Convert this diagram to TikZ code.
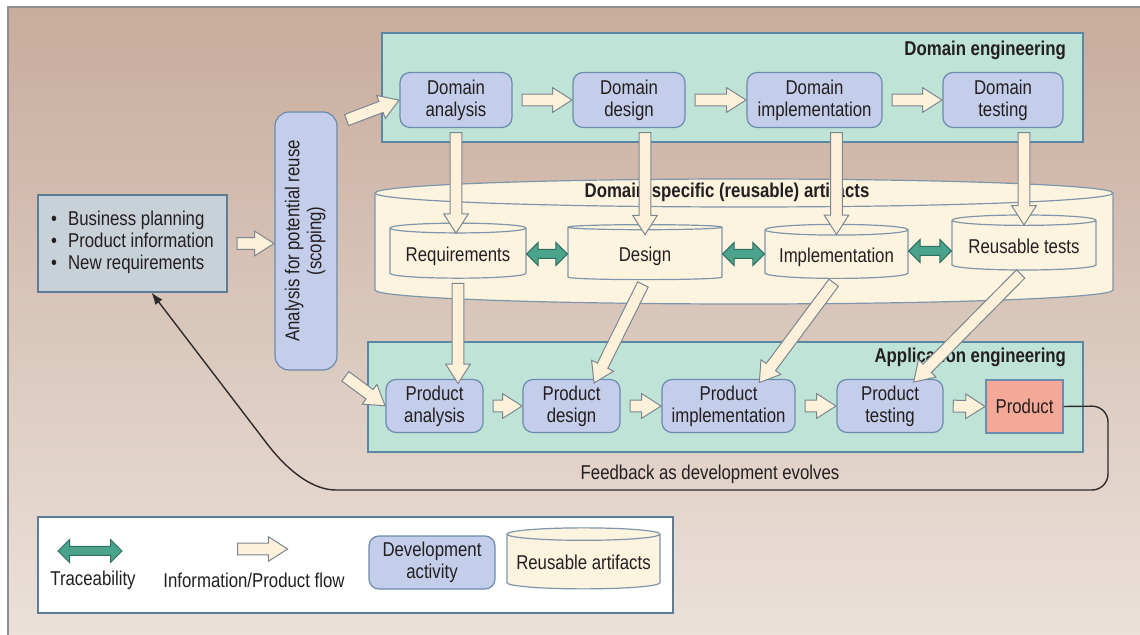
\documentclass[tikz,border=0pt]{standalone}
\usepackage{fontspec}
\setmainfont[FakeStretch=0.84]{Liberation Sans}
\usepackage{graphicx}
\usetikzlibrary{positioning,calc,shapes.geometric,shapes.arrows,arrows.meta}
\definecolor{bgtop}{HTML}{C8AC9C}
\definecolor{bgbot}{HTML}{EBE1DA}
\definecolor{framegray}{HTML}{8E8E90}
\definecolor{ink}{HTML}{231F20}
\definecolor{regfill}{HTML}{BFE3D6}
\definecolor{regline}{HTML}{5A88A2}
\definecolor{actfill}{HTML}{C4CDEA}
\definecolor{actline}{HTML}{6A8CAE}
\definecolor{cream}{HTML}{FDF4DF}
\definecolor{storeline}{HTML}{7F96A8}
\definecolor{flowfill}{HTML}{FDF1DA}
\definecolor{flowline}{HTML}{7C8692}
\definecolor{tracefill}{HTML}{4BA38B}
\definecolor{traceline}{HTML}{2F6E62}
\definecolor{prodfill}{HTML}{F3A898}
\definecolor{inputfill}{HTML}{C9D1D8}
\definecolor{keyline}{HTML}{5C7C98}
\definecolor{fbline}{HTML}{2E2B2B}

\begin{document}
\begin{tikzpicture}[x=0.5pt, y=-0.5pt,
        every node/.style={font=\fontsize{10}{11}\selectfont, text=ink},
        region/.style={rectangle, draw=regline, fill=regfill, line width=0.6pt},
        title/.style={font=\fontsize{10}{11}\selectfont\bfseries, anchor=east},
        activity/.style={rectangle, rounded corners=5pt, draw=actline, fill=actfill, line width=0.6pt, align=center, inner sep=1pt},
        store/.style={cylinder, shape border rotate=90, aspect=0.09, draw=storeline, fill=cream, line width=0.6pt, inner sep=1pt},
        flowhead/.style={single arrow, draw=flowline, fill=flowfill, line width=0.5pt, inner sep=2.7pt, single arrow head extend=3.2pt, single arrow tip angle=65},
        tracehead/.style={double arrow, draw=traceline, fill=tracefill, line width=0.5pt, inner sep=2pt, double arrow head extend=3.5pt, double arrow tip angle=90},
        fgap/.store in=\flowgap, fgap=2.5pt,
        flow/.style={to path={let \p1=(\tikztostart), \p2=(\tikztotarget),
            \n1={atan2(\y2-\y1,\x2-\x1)}, \n2={veclen(\x2-\x1,\y2-\y1)-2*\flowgap} in
            node[flowhead, minimum height=\n2, rotate=\n1] at ($(\p1)!0.5!(\p2)$) {}}},
        trace/.style={to path={let \p1=(\tikztostart), \p2=(\tikztotarget),
            \n1={atan2(\y2-\y1,\x2-\x1)}, \n2={veclen(\x2-\x1,\y2-\y1)} in
            node[tracehead, minimum height=\n2, rotate=\n1] at ($(\p1)!0.5!(\p2)$) {}}},
        feedback/.style={draw=fbline, line width=0.7pt, -{Latex[length=6pt,width=4.5pt]}}]
        \useasboundingbox (0,0) rectangle (1140,635);
        % page
        \fill[white] (0,0) rectangle (1140,635);
        \shade[top color=bgtop, bottom color=bgbot] (8,7) rectangle (1140,635);
        \draw[framegray, line width=1.2pt] (8,635) -- (8,7) -- (1140,7);
        % engineering regions
        \node[region, minimum width=350.5pt, minimum height=54.5pt] at (732.5,87.5) (domeng) {};
        \node[title] at (1073,50) (domtitle) {Domain engineering};
        \node[region, minimum width=357.5pt, minimum height=55pt] at (725.5,397) (appeng) {};
        \node[title] at (1073,357) (apptitle) {Application engineering};
        % scoping
        \node[rectangle, draw=keyline, fill=inputfill, line width=0.6pt, minimum width=94.5pt, minimum height=48.5pt] at (132.5,243.5) (inputs)
            {\begin{tabular}{@{}l@{\hspace{5.5pt}}l@{}}\textbullet & Business planning\\ \textbullet & Product information\\ \textbullet & New requirements\end{tabular}};
        \node[activity, rounded corners=7pt, minimum width=31pt, minimum height=129pt] at (306,241) (scope)
            {\rotatebox{90}{\begin{tabular}{@{}c@{}}Analysis for potential reuse\\(scoping)\end{tabular}}};
        % domain activities
        \node[activity, minimum width=56pt, minimum height=27.5pt] at (456,100) (dA) {Domain\\analysis};
        \node[activity, minimum width=56pt, minimum height=27.5pt] at (629,100) (dD) {Domain\\design};
        \node[activity, minimum width=67.5pt, minimum height=27.5pt] at (814.5,100) (dI) {Domain\\implementation};
        \node[activity, minimum width=60pt, minimum height=27.5pt] at (1003,100) (dT) {Domain\\testing};
        % reusable artifacts (big can)
        \path[fill=cream, draw=storeline, line width=0.6pt] (375,193) -- (375,290)
            arc[start angle=180, end angle=360, x radius=184.5pt, y radius=7pt] -- (1113,193)
            arc[start angle=0, end angle=180, x radius=184.5pt, y radius=7pt] -- cycle;
        \draw[storeline, line width=0.6pt] (375,193) arc[start angle=180, end angle=360, x radius=184.5pt, y radius=7pt];
        \node[title, anchor=center] at (727,192) (artstitle) {Domain-specific (reusable) artifacts};
        \node[store, minimum width=68pt, minimum height=27.5pt, text depth=-4pt] at (458,254) (req) {Requirements};
        \node[store, minimum width=77pt, minimum height=27.5pt, text depth=-4pt] at (645,254) (des) {Design};
        \node[store, minimum width=71.5pt, minimum height=27pt, text depth=-4pt] at (836.5,255) (imp) {Implementation};
        \node[store, minimum width=72pt, minimum height=27.5pt, text depth=-4pt] at (1024,246) (tst) {Reusable tests};
        % product activities
        \node[activity, minimum width=48.5pt, minimum height=26.5pt] at (434.5,406) (pA) {Product\\analysis};
        \node[activity, minimum width=48.5pt, minimum height=26.5pt] at (571.5,406) (pD) {Product\\design};
        \node[activity, minimum width=66.5pt, minimum height=26.5pt] at (728.5,406) (pI) {Product\\implementation};
        \node[activity, minimum width=53pt, minimum height=26.5pt] at (890,406) (pT) {Product\\testing};
        \node[rectangle, draw=actline, fill=prodfill, line width=0.6pt, minimum width=38.5pt, minimum height=26.5pt] at (1024.5,406.5) (prod) {Product};
        % flows
        \path (inputs.east) to[flow] (inputs.east -| scope.west);
        \path ([yshift=-6pt]scope.north east) to[flow] (dA.west);
        \path (scope.south east) to[flow] (pA.west);
        \path (dA.east) to[flow] (dD.west);
        \path (dD.east) to[flow] (dI.west);
        \path (dI.east) to[flow] (dT.west);
        \path (dA.south) to[flow, fgap=0pt] ([yshift=-3pt]dA.south |- req.north);
        \path (dD.south -| des.north) to[flow, fgap=0pt] ([yshift=-3pt]des.north);
        \path (dI.south -| imp.north) to[flow, fgap=0pt] ([yshift=-3pt]imp.north);
        \path (dT.south -| tst.north) to[flow, fgap=0pt] ([yshift=-3pt]tst.north);
        \path (req.south) to[flow, fgap=0pt] (req.south |- pA.north);
        \path (des.south) to[flow, fgap=0pt] ($(pD.north)!0.5!(pD.north east)$);
        \path (imp.south) to[flow, fgap=0pt] ($(pI.north)!0.5!(pI.north east)$);
        \path (tst.south) to[flow, fgap=0pt] ($(pT.north)!0.5!(pT.north east)$);
        \path (pA.east) to[flow] (pD.west);
        \path (pD.east) to[flow] (pI.west);
        \path (pI.east) to[flow] (pT.west);
        \path (pT.east) to[flow] (prod.west);
        % traceability
        \path (req.east) to[trace] (req.east -| des.west);
        \path (des.east) to[trace] (des.east -| imp.west);
        \path ([yshift=2pt]imp.east) to[trace] ([yshift=2pt]imp.east -| tst.west);
        % feedback
        \draw[feedback] (prod.east) [rounded corners=8pt] -- (1108,406) -- (1108,490) -- (352,490) [sharp corners]
            to[out=180, in=-52] (268,445) -- ($(inputs.south)!0.2!(inputs.south east)$);
        \node at (710,474) (fbtext) {Feedback as development evolves};
        % key
        \node[rectangle, draw=keyline, fill=white, line width=0.6pt, minimum width=317.5pt, minimum height=48pt] at (355.5,565) (key) {};
        \coordinate (trA) at (58,551);
        \coordinate (trB) at (122,551);
        \path (trA) to[trace] (trB);
        \node at (93,580) (trtext) {Traceability};
        \coordinate (flA) at (233,549);
        \coordinate (flB) at (283,549);
        \path (flA) to[flow, fgap=0pt] (flB);
        \node at (254,580) (fltext) {Information/Product flow};
        \node[activity, minimum width=63pt, minimum height=26.5pt] at (432,562.5) (keyact) {Development\\activity};
        \node[store, minimum width=76.5pt, minimum height=30.5pt, text depth=-4pt] at (583.5,562.5) (keystore) {Reusable artifacts};
\end{tikzpicture}
\end{document}
